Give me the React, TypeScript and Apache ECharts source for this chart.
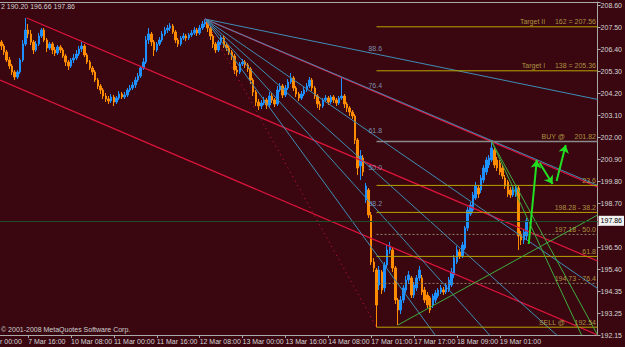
import React, { useEffect, useRef } from "react";
import * as echarts from "echarts";

// ---- data ----
const slotCount = 223; // bar slots incl. chart shift on the right
const timeLabels: Record<number, string> = {
  10: "7 Mar 16:00", 26: "10 Mar 08:00", 42: "11 Mar 00:00", 58: "11 Mar 16:00",
  74: "12 Mar 08:00", 90: "13 Mar 00:00", 106: "13 Mar 16:00", 122: "14 Mar 08:00",
  138: "17 Mar 01:00", 154: "17 Mar 17:00", 170: "18 Mar 09:00", 186: "19 Mar 01:00",
};
// 197.60 is hidden behind the current-price box in the reference
const yTickLabels = ["192.15", "193.25", "194.35", "195.40", "196.50", "", "198.70", "199.80",
  "200.90", "202.00", "203.10", "204.20", "205.30", "206.40", "207.50", "208.60"];

const opens = [206.80,206.60,206.30,205.90,205.60,205.30,205.05,205.30,205.90,206.70,
207.40,207.20,206.80,206.40,206.70,207.10,207.40,206.90,206.50,206.70,
206.40,206.25,206.55,206.40,206.10,205.80,205.60,205.90,206.00,206.20,
206.45,206.60,206.15,205.80,205.50,205.30,204.90,204.60,204.40,204.10,
203.95,203.85,204.05,203.80,204.00,204.20,204.05,204.15,204.40,204.50,
204.65,204.90,205.10,205.50,205.80,206.90,207.20,206.80,206.40,206.70,
206.90,207.20,207.40,207.50,207.60,207.30,206.90,206.70,207.00,207.10,
207.00,207.15,207.25,207.40,207.25,207.50,207.70,207.80,207.50,207.10,
206.70,206.40,206.80,207.00,206.65,206.50,206.30,206.10,205.40,205.30,
205.70,205.80,205.65,205.45,204.90,204.30,203.80,203.60,203.75,203.90,
203.65,204.10,203.90,203.70,204.40,204.60,204.15,204.50,204.80,205.00,
204.50,204.20,204.00,204.20,204.40,204.60,204.90,204.50,204.10,203.70,
203.60,203.90,204.00,203.80,204.05,203.90,203.75,204.00,204.10,203.70,
203.50,203.30,203.10,201.90,200.60,201.00,198.90,199.40,198.15,195.80,
195.40,194.65,195.30,194.50,195.65,196.40,196.40,195.50,193.90,193.40,
193.90,194.40,194.90,195.00,194.15,194.50,195.00,195.00,194.40,194.15,
194.00,193.65,193.90,194.10,194.30,194.40,194.30,194.40,194.65,195.15,
195.80,196.30,196.10,196.50,197.50,198.20,198.40,199.00,199.50,199.40,
199.90,200.30,200.65,200.90,201.40,200.90,200.75,200.50,200.00,199.80,
199.40,199.15,199.20,199.50,197.20,196.90,197.10];
const closes = [206.60,206.30,205.90,205.60,205.30,205.05,205.30,205.90,206.70,207.40,
207.20,206.80,206.40,206.70,207.10,207.40,206.90,206.50,206.70,206.40,
206.25,206.55,206.40,206.10,205.80,205.60,205.90,206.00,206.20,206.45,
206.60,206.15,205.80,205.50,205.30,204.90,204.60,204.40,204.10,203.95,
203.85,204.05,203.80,204.00,204.20,204.05,204.15,204.40,204.50,204.65,
204.90,205.10,205.50,205.80,206.90,207.20,206.80,206.40,206.70,206.90,
207.20,207.40,207.50,207.60,207.30,206.90,206.70,207.00,207.10,207.00,
207.15,207.25,207.40,207.25,207.50,207.70,207.80,207.50,207.10,206.70,
206.40,206.80,207.00,206.65,206.50,206.30,206.10,205.40,205.30,205.70,
205.80,205.65,205.45,204.90,204.30,203.80,203.60,203.75,203.90,203.65,
204.10,203.90,203.70,204.40,204.60,204.15,204.50,204.80,205.00,204.50,
204.20,204.00,204.20,204.40,204.60,204.90,204.50,204.10,203.70,203.60,
203.90,204.00,203.80,204.05,203.90,203.75,204.00,204.10,203.70,203.50,
203.30,203.10,201.90,200.50,201.10,200.30,199.60,198.15,195.80,195.50,
193.65,195.40,194.40,195.65,196.40,196.60,195.50,193.90,193.40,193.90,
194.50,194.90,195.15,194.15,194.65,195.00,195.40,194.30,193.90,193.65,
193.40,194.10,194.25,194.40,194.50,194.30,194.65,194.90,195.30,196.00,
196.40,196.10,196.65,197.50,198.40,198.65,199.15,199.60,199.20,200.00,
200.50,200.90,201.00,201.50,200.65,200.50,200.30,200.10,199.60,199.20,
199.15,199.40,199.50,197.10,196.90,197.30,197.86];
const lows = [206.40,206.15,205.80,205.45,205.15,204.90,204.95,205.20,205.80,206.60,
207.00,206.65,206.20,206.30,206.60,207.00,206.80,206.30,206.40,206.20,
206.10,206.15,206.25,206.00,205.60,205.40,205.50,205.75,205.90,206.10,
206.30,206.05,205.70,205.40,205.15,204.80,204.45,204.20,203.95,203.80,
203.70,203.75,203.60,203.70,203.90,203.95,203.95,204.05,204.30,204.40,
204.50,204.80,205.00,205.40,205.70,206.70,206.60,206.10,206.30,206.60,
206.80,207.10,207.25,207.35,207.20,206.75,206.55,206.60,206.90,206.85,
206.90,207.05,207.15,207.10,207.15,207.40,207.55,207.30,206.90,206.50,
206.25,206.30,206.65,206.50,206.35,206.15,205.90,205.20,205.10,205.20,
205.60,205.50,205.30,204.70,204.10,203.60,203.40,203.45,203.65,203.45,
203.55,203.75,203.55,203.60,204.30,204.00,204.05,204.40,204.70,204.35,
204.05,203.85,203.90,204.10,204.30,204.50,204.35,203.95,203.50,203.40,
203.50,203.80,203.65,203.70,203.75,203.60,203.65,203.90,203.50,203.30,
203.10,202.95,201.70,200.15,199.90,200.10,198.75,198.00,195.65,195.30,
192.54,194.40,194.20,194.30,195.50,196.20,195.30,193.70,192.65,193.20,
193.75,194.25,194.70,194.00,194.00,194.35,194.85,194.15,193.75,193.50,
193.25,193.50,193.75,194.00,194.20,194.15,194.20,194.30,194.55,195.00,
195.70,195.95,196.00,196.40,197.35,198.10,198.30,198.90,199.00,199.25,
199.75,200.15,200.50,200.80,200.50,200.35,200.15,199.95,199.45,199.05,
199.00,199.05,199.05,196.40,196.65,196.70,196.90];
const highs = [206.90,206.70,206.40,206.05,205.70,205.40,205.40,206.00,206.90,208.00,
207.70,207.40,206.90,206.85,207.25,207.50,207.50,207.00,206.80,206.80,
206.55,206.65,206.65,206.50,206.20,205.90,206.00,206.20,206.40,206.60,
206.80,206.70,206.25,205.90,205.60,205.40,205.00,204.70,204.50,204.25,
204.10,204.20,204.15,204.10,204.35,204.30,204.30,204.50,204.65,204.80,
205.05,205.25,205.60,206.00,207.10,207.50,207.30,206.90,206.80,207.05,
207.35,207.55,207.65,207.75,207.70,207.40,207.00,207.10,207.25,207.20,
207.25,207.40,207.55,207.50,207.65,207.85,207.95,207.85,207.60,207.20,
206.80,206.90,207.15,207.10,206.75,206.60,206.40,206.20,205.60,205.80,
205.95,205.90,205.75,205.55,205.00,204.40,203.95,203.90,204.05,204.00,
204.30,204.25,204.00,204.60,204.75,204.70,204.65,204.95,205.25,205.10,
204.60,204.30,204.35,204.55,204.75,205.05,205.00,204.60,204.20,203.85,
204.00,204.15,204.10,204.15,204.15,204.00,204.10,205.00,204.20,203.80,
203.60,203.40,203.20,202.00,201.40,201.15,199.75,199.50,198.30,196.00,
195.50,195.60,195.40,195.80,196.65,196.80,196.50,195.60,194.00,194.10,
194.65,195.10,195.35,195.10,194.80,195.15,195.60,195.15,194.55,194.30,
194.10,194.20,194.40,194.50,194.65,194.55,194.75,195.05,195.50,196.15,
196.60,196.45,196.80,197.60,198.55,198.80,199.30,199.80,199.65,200.15,
200.65,201.05,201.15,201.82,201.55,201.05,200.90,200.65,200.15,199.90,
199.55,199.55,199.65,199.60,197.35,197.45,198.00];

const bidPrice = 197.86;
// red channel lines [barIndex, price]
const redChannel = [
  [[9.5, 208.0], [222.5, 195.85]],
  [[-0.5, 204.9], [222.5, 192.15]],
  [[76, 207.95], [222.5, 199.55]],
];
// fib fan: from high to low
const fanHigh = [76, 207.95];
const fanLow = [140, 192.54];
const fanLevels = [23.6, 38.2, 50.0, 61.8, 76.4, 88.6];
const fanLabeled = ["", "38.2", "50.0", "61.8", "76.4", "88.6"];
// horizontal fib levels
const fibStart = 140;
const fibPrices = [207.56, 205.36, 201.82, 199.63, 198.28, 197.18, 196.08, 194.73, 192.54];
const fibTexts = ["Target II     162 = 207.56", "Target I     138 = 205.36", "BUY @     201.82", "23.6",
  "198.28 - 38.2", "197.18 - 50.0", "61.8", "194.73 - 76.4", "SELL @     192.54"];
const fibKinds = ["y", "y", "g", "y", "y", "d", "y", "d", "y"];
// thin green lines
const greenLines = [
  [[148, 192.65], [222.5, 198.15]],
  [[183, 201.82], [222.5, 192.15]],
  [[183, 201.82], [216.5, 192.15]],
];
// green arrow path segments
const arrowSegs = [
  [[196.8, 196.7], [199.8, 200.9]],
  [[200.9, 200.75], [205.7, 199.7]],
  [[207.2, 199.85], [210.6, 201.65]],
];

const FONT = "Liberation Sans";
const BG = "#3a0710";

export default function App() {
  const ref = useRef<HTMLDivElement>(null);
  useEffect(() => {
    if (!ref.current) return;
    const chart = echarts.init(ref.current, undefined, { renderer: "svg" });
    const cats = Array.from({ length: slotCount }, (_, i) => String(i));
    const candles = opens.map((o, i) => [o, closes[i], lows[i], highs[i]]);
    const showTick = (i: number) => timeLabels[i] !== undefined;

    const series: any[] = [
      {
        type: "candlestick",
        xAxisIndex: 0, yAxisIndex: 0,
        data: candles,
        barWidth: 2,
        itemStyle: { color: "#1e90ff", color0: "#ff8c00", borderColor: "#1e90ff", borderColor0: "#ff8c00", borderWidth: 1 },
        markLine: {
          silent: true, symbol: ["none", "none"],
          data: [{ yAxis: bidPrice }],
          lineStyle: { color: "#1d4d29", type: "solid", width: 1 },
          label: { position: "end", formatter: bidPrice.toFixed(2), backgroundColor: "#f2f2f2", color: "#000",
            fontSize: 7, fontFamily: FONT, padding: [2, 2, 1, 2], distance: 1 },
        },
        z: 2,
      },
    ];
    const lineS = (data: any, color: string, width = 1, type: any = "solid", z = 3) => ({
      type: "line", xAxisIndex: 1, yAxisIndex: 0, data, symbol: "none", silent: true, clip: true,
      lineStyle: { color, width, type }, z,
    });
    redChannel.forEach((d) => series.push(lineS(d, "#dc143c", 1.3)));
    // fan
    const [x1, p1] = fanHigh;
    const [x2, p2] = fanLow;
    fanLevels.forEach((lv) => {
      const pL = p2 + (lv / 100) * (p1 - p2);
      const pe = p1 + (pL - p1) * (222.5 - x1) / (x2 - x1);
      series.push(lineS([[x1, p1], [222.5, pe]], "#3f8db6", 1));
    });
    series.push(lineS([[x1, p1], [x2, p2]], "#dc143c", 1, [1, 4]));
    series.push({
      type: "scatter", xAxisIndex: 1, yAxisIndex: 0, symbolSize: 0, silent: true, z: 5,
      data: fanLevels.map((lv, i) => ({ value: [137, p2 + (lv / 100) * (p1 - p2)], name: fanLabeled[i] })),
      label: { show: true, formatter: "{b}", position: "right", distance: 0, offset: [0, -6], color: "#8fb3d6", fontSize: 7, fontFamily: FONT },
    });
    // horizontal fib levels
    fibPrices.forEach((p, i) => {
      const k = fibKinds[i];
      const col = k === "y" ? "#b9a400" : k === "g" ? "#8a8a8a" : "#8c8668";
      series.push(lineS([[fibStart, p], [222.5, p]], col, k === "g" ? 1.5 : 1, k === "d" ? [2, 2] : "solid"));
    });
    series.push({
      type: "scatter", xAxisIndex: 1, yAxisIndex: 0, symbolSize: 0, silent: true, z: 5,
      data: fibPrices.map((p, i) => ({ value: [221.9, p], name: fibTexts[i] })),
      label: { show: true, formatter: "{b}", position: "left", distance: 0, offset: [0, -5], color: "#cbb84e", fontSize: 7, fontFamily: FONT },
    });
    greenLines.forEach((d, i) => {
      const s: any = lineS(d, "#3fae3f", 1);
      if (i === 0) {
        s.markLine = {
          silent: true, symbol: ["none", "arrow"], symbolSize: 8,
          label: { show: false },
          lineStyle: { color: "#22e022", width: 2, type: "solid" },
          data: arrowSegs.map((seg) => [{ coord: seg[0] }, { coord: seg[1] }]),
        };
      }
      series.push(s);
    });

    chart.setOption({
      animation: false,
      backgroundColor: BG,
      grid: { left: 0, right: 26, top: 2, bottom: 12, containLabel: false },
      xAxis: [
        {
          type: "category", data: cats, boundaryGap: true,
          axisLine: { lineStyle: { color: "#a9a9a9", width: 1 } },
          axisTick: { show: true, interval: showTick, alignWithLabel: true, length: 3, lineStyle: { color: "#a9a9a9" } },
          axisLabel: { interval: showTick, formatter: (_v: string, i: number) => timeLabels[i] ?? "", align: "left",
            margin: 3, fontSize: 7, color: "#d6d6d6", fontFamily: FONT },
          splitLine: { show: false },
        },
        {
          type: "value", min: -0.5, max: 222.5, position: "top",
          axisLine: { show: true, onZero: false, lineStyle: { color: "#a9a9a9" } },
          axisTick: { show: false }, axisLabel: { show: false }, splitLine: { show: false },
        },
      ],
      yAxis: [
        { type: "value", min: 192.15, max: 208.8, show: false, splitLine: { show: false } },
        {
          type: "value", min: 0, max: 16.65, interval: 1.1, position: "right",
          axisLine: { show: true, lineStyle: { color: "#a9a9a9" } },
          axisTick: { show: true, length: 3, lineStyle: { color: "#a9a9a9" } },
          splitLine: { show: false },
          axisLabel: {
            margin: 3, fontSize: 7, color: "#d6d6d6", fontFamily: FONT,
            formatter: (v: number) => {
              const k = v / 1.1; const r = Math.round(k);
              if (Math.abs(k - r) > 0.01) return "";
              return yTickLabels[r] ?? "";
            },
          },
        },
      ],
      graphic: [
        { type: "text", left: 1, top: 3, style: { text: "2 190.20 196.66 197.86", fill: "#cfcfcf", fontSize: 7, fontFamily: FONT } },
        { type: "text", left: 1, top: 326, style: { text: "© 2001-2008 MetaQuotes Software Corp.", fill: "#cfcfcf", fontSize: 7, fontFamily: FONT } },
        { type: "text", x: 0, y: 338, style: { text: "r 00:00", fill: "#d6d6d6", fontSize: 7, fontFamily: FONT } },
      ],
      series,
    });
    return () => chart.dispose();
  }, []);
  return <div ref={ref} style={{ position: "fixed", left: 0, top: 0, width: 625, height: 347 }} />;
}
